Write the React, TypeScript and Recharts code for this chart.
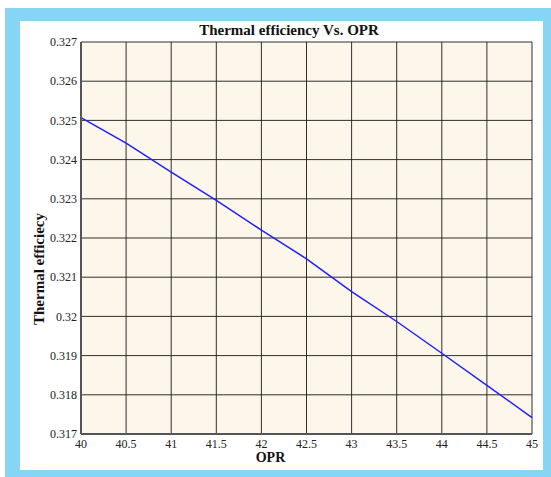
import { CartesianGrid, Label, Line, LineChart, XAxis, YAxis } from "recharts";

const oprValues = [40, 40.5, 41, 41.5, 42, 42.5, 43, 43.5, 44, 44.5, 45];
const efficiencyValues = [
  0.32507, 0.32442, 0.32368, 0.32296, 0.3222, 0.32147, 0.32063, 0.31987, 0.31906, 0.31824, 0.31742,
];
const xTicks = [40, 40.5, 41, 41.5, 42, 42.5, 43, 43.5, 44, 44.5, 45];
const yTicks = [0.317, 0.318, 0.319, 0.32, 0.321, 0.322, 0.323, 0.324, 0.325, 0.326, 0.327];

const data = oprValues.map((opr, i) => ({ opr, eff: efficiencyValues[i] }));

const tickFont = "'Liberation Sans Narrow', 'Liberation Serif', serif";
const labelFont = "'Liberation Serif', serif";

export default function App() {
  return (
    <div style={{ position: "absolute", left: 5, top: 8, width: 546, height: 469, background: "#86d5f5" }}>
      <div style={{ position: "absolute", left: 15, top: 13, width: 523, height: 449, background: "#ffffff" }}>
        <div
          style={{
            position: "absolute",
            left: 0,
            top: 1,
            width: 538,
            textAlign: "center",
            fontFamily: labelFont,
            fontWeight: 700,
            fontSize: 15,
            color: "#111",
          }}
        >
          Thermal efficiency Vs. OPR
        </div>
        <LineChart width={523} height={449} data={data} margin={{ top: 21, right: 11, bottom: 0, left: 0 }}>
          <CartesianGrid fill="#fdf6eb" stroke="#1a1a1a" strokeOpacity={0.9} />
          <XAxis
            dataKey="opr"
            type="number"
            domain={[40, 45]}
            ticks={xTicks}
            height={36}
            axisLine={{ stroke: "#555", strokeWidth: 2 }}
            tickLine={false}
            tickSize={3}
            tick={{ fill: "#222", fontSize: 12, fontFamily: tickFont }}
            tickFormatter={(v) => String(v)}
          >
            <Label
              value="OPR"
              position="insideBottom"
              offset={8}
              dx={-36}
              style={{ fill: "#111", fontWeight: 700, fontSize: 14, fontFamily: labelFont }}
            />
          </XAxis>
          <YAxis
            type="number"
            domain={[0.317, 0.327]}
            ticks={yTicks}
            width={61}
            axisLine={{ stroke: "#555", strokeWidth: 2 }}
            tickLine={false}
            tickSize={2}
            tick={{ fill: "#222", fontSize: 12, fontFamily: tickFont }}
            tickFormatter={(v) => String(Number(v.toFixed(3)))}
          >
            <Label
              value="Thermal efficiecy"
              angle={-90}
              position="insideLeft"
              offset={19}
              dy={31}
              style={{ textAnchor: "middle", fill: "#111", fontWeight: 700, fontSize: 15, fontFamily: labelFont }}
            />
          </YAxis>
          <Line
            dataKey="eff"
            type="linear"
            stroke="#1f1fff"
            strokeWidth={1.5}
            dot={false}
            isAnimationActive={false}
          />
        </LineChart>
      </div>
    </div>
  );
}
